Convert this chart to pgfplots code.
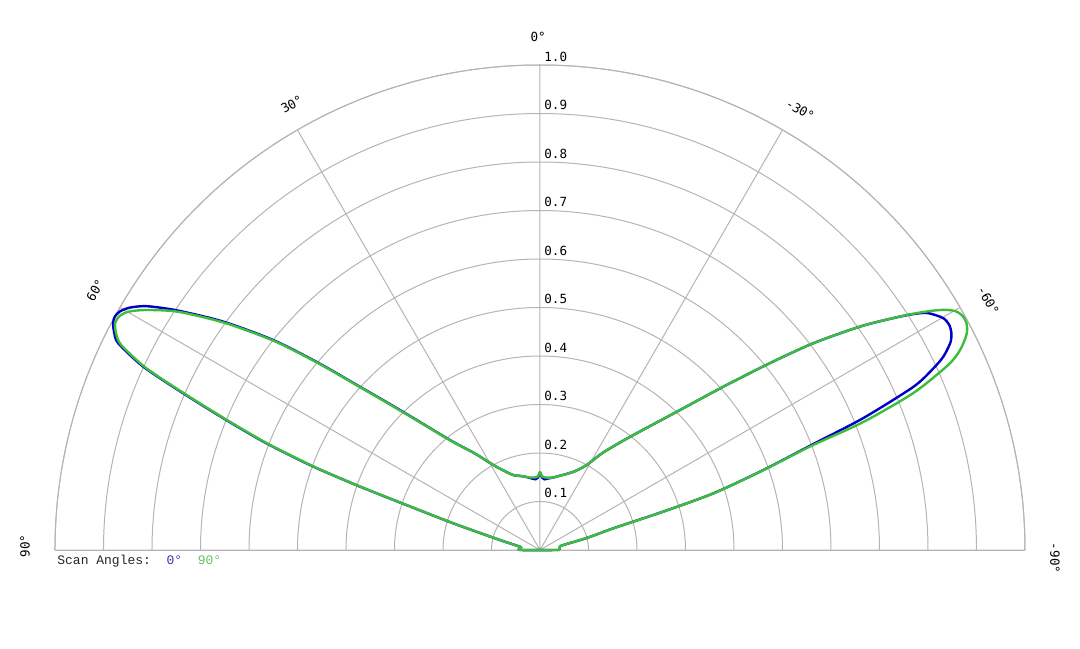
\documentclass[border=0pt]{standalone}
\usepackage{fontspec}
\setmainfont{Liberation Mono}
\newfontfamily\labfont{DejaVu Sans Mono}
\usepackage{pgfplots}
\usepackage{pgfplotstable}
\pgfplotsset{compat=1.18}
\usepgfplotslibrary{polar}
\definecolor{scanA}{RGB}{0,0,200}
\definecolor{scanB}{RGB}{60,190,60}
\definecolor{gridgray}{RGB}{180,180,180}
\definecolor{txtA}{RGB}{50,50,170}
\definecolor{txtB}{RGB}{100,190,100}
\tikzset{
    rlab/.style={font=\labfont\fontsize{6.3}{7}\selectfont, anchor=south west,
        inner sep=0pt, xshift=2pt, yshift=1.5pt},
    deg/.style={font=\labfont\fontsize{6.3}{7}\selectfont, inner sep=0pt}
}

% angle from broadside (deg, + to the left), normalised gain
\pgfplotstableread{
a r
-90 0.040
-84 0.040
-80.6 0.042
-77.9 0.049
-75.6 0.100
-73.5 0.158
-72.7 0.266
-71.9 0.376
-70.3 0.489
-68.8 0.605
-67.8 0.720
-66.4 0.840
-65.3 0.890
-64.4 0.922
-63.2 0.948
-62.2 0.959
-61.2 0.963
-60.2 0.960
-59.4 0.950
-58.4 0.933
-57.3 0.895
-55.2 0.810
-52.9 0.707
-50.9 0.611
-48.3 0.506
-44.7 0.401
-38.5 0.298
-33.0 0.240
-28.8 0.200
-24.0 0.178
-19.2 0.166
-14.0 0.157
-10.4 0.152
-6.0 0.148
-3.5 0.146
-1.5 0.150
0 0.160
1.5 0.150
3.5 0.146
7.9 0.150
13.0 0.156
19.6 0.164
24.0 0.178
28.8 0.200
34.0 0.240
39.3 0.293
45.0 0.408
47.8 0.501
49.9 0.602
51.8 0.700
54.2 0.805
56.6 0.898
58.2 0.954
59.4 0.982
60.4 0.996
61.2 1.000
62.0 0.997
63.0 0.985
63.9 0.968
65.2 0.901
66.3 0.803
67.5 0.700
68.7 0.605
69.8 0.498
70.6 0.393
71.4 0.290
72.9 0.187
76.0 0.085
80.6 0.042
84 0.040
90 0.040
-90 0.040
}\scanzero

\pgfplotstableread{
a r
-90 0.040
-84 0.040
-80.6 0.042
-77.9 0.049
-75.6 0.100
-73.5 0.160
-72.7 0.268
-71.9 0.378
-70.3 0.491
-69.0 0.600
-68.4 0.717
-67.2 0.835
-65.7 0.920
-64.9 0.950
-64.0 0.971
-63.0 0.988
-62.0 0.996
-61.0 0.996
-60.1 0.988
-59.3 0.970
-58.5 0.943
-57.3 0.896
-55.2 0.810
-52.9 0.707
-50.9 0.611
-48.3 0.506
-44.7 0.401
-38.5 0.298
-33.0 0.240
-28.8 0.200
-24.0 0.178
-19.2 0.166
-14.0 0.157
-10.4 0.152
-6.0 0.150
-3.5 0.150
-1.5 0.152
0 0.161
1.5 0.152
3.5 0.150
7.9 0.151
13.0 0.156
19.6 0.164
24.0 0.178
28.8 0.200
34.0 0.240
39.3 0.292
45.0 0.405
47.8 0.498
49.9 0.598
51.8 0.696
54.2 0.800
56.6 0.892
58.6 0.950
59.9 0.980
60.9 0.992
61.9 0.993
62.9 0.982
63.9 0.962
65.2 0.895
66.3 0.797
67.5 0.695
68.7 0.600
69.8 0.493
70.6 0.389
71.4 0.287
72.9 0.185
76.0 0.084
80.6 0.042
84 0.040
90 0.040
-90 0.040
}\scanninety

\begin{document}
\begin{tikzpicture}
\path[use as bounding box] (-270pt,-49pt) rectangle (270pt,275pt);
\begin{polaraxis}[
    anchor=origin,
    at={(0pt,0pt)},
    scale only axis,
    width=485pt,
    height=485pt,
    xmin=0, xmax=180,
    ymin=0, ymax=1,
    xtick={0,30,...,180},
    ytick={0.1,0.2,...,1.0},
    xticklabels={},
    yticklabels={},
    grid=both,
    major grid style={draw=gridgray, line width=0.5pt},
    axis line style={draw=gridgray, line width=0.5pt},
    major tick length=0pt,
    clip=false,
]
\addplot[scanA, line width=1.2pt, line join=round, smooth, tension=0.45]
    table[x expr=\thisrow{a}+90, y=r] {\scanzero};
\addplot[scanB, line width=1.2pt, line join=round, smooth, tension=0.45]
    table[x expr=\thisrow{a}+90, y=r] {\scanninety};

\node[rlab] at (axis cs:90,0.1) {0.1};
\node[rlab] at (axis cs:90,0.2) {0.2};
\node[rlab] at (axis cs:90,0.3) {0.3};
\node[rlab] at (axis cs:90,0.4) {0.4};
\node[rlab] at (axis cs:90,0.5) {0.5};
\node[rlab] at (axis cs:90,0.6) {0.6};
\node[rlab] at (axis cs:90,0.7) {0.7};
\node[rlab] at (axis cs:90,0.8) {0.8};
\node[rlab] at (axis cs:90,0.9) {0.9};
\node[rlab] at (axis cs:90,1.0) {1.0};

\node[deg] at (axis cs:90.2,1.058) {0°};
\node[deg, rotate=30] at (axis cs:119.1,1.052) {30°};
\node[deg, rotate=-30] at (axis cs:59.4,1.054) {-30°};
\node[deg, rotate=60] at (axis cs:149.7,1.062) {60°};
\node[deg, rotate=-60] at (axis cs:29.1,1.058) {-60°};
\node[deg, rotate=90] at (axis cs:179.56,1.062) {90°};
\node[deg, rotate=-90] at (axis cs:-0.9,1.062) {-90°};
\end{polaraxis}
\node[anchor=base west, inner sep=0pt, font=\fontsize{6.5}{7}\selectfont, text=black!85]
    at (-241.5pt,-7pt) {Scan Angles:\ \ \textcolor{txtA}{0°}\ \ \textcolor{txtB}{90°}};
\end{tikzpicture}
\end{document}
